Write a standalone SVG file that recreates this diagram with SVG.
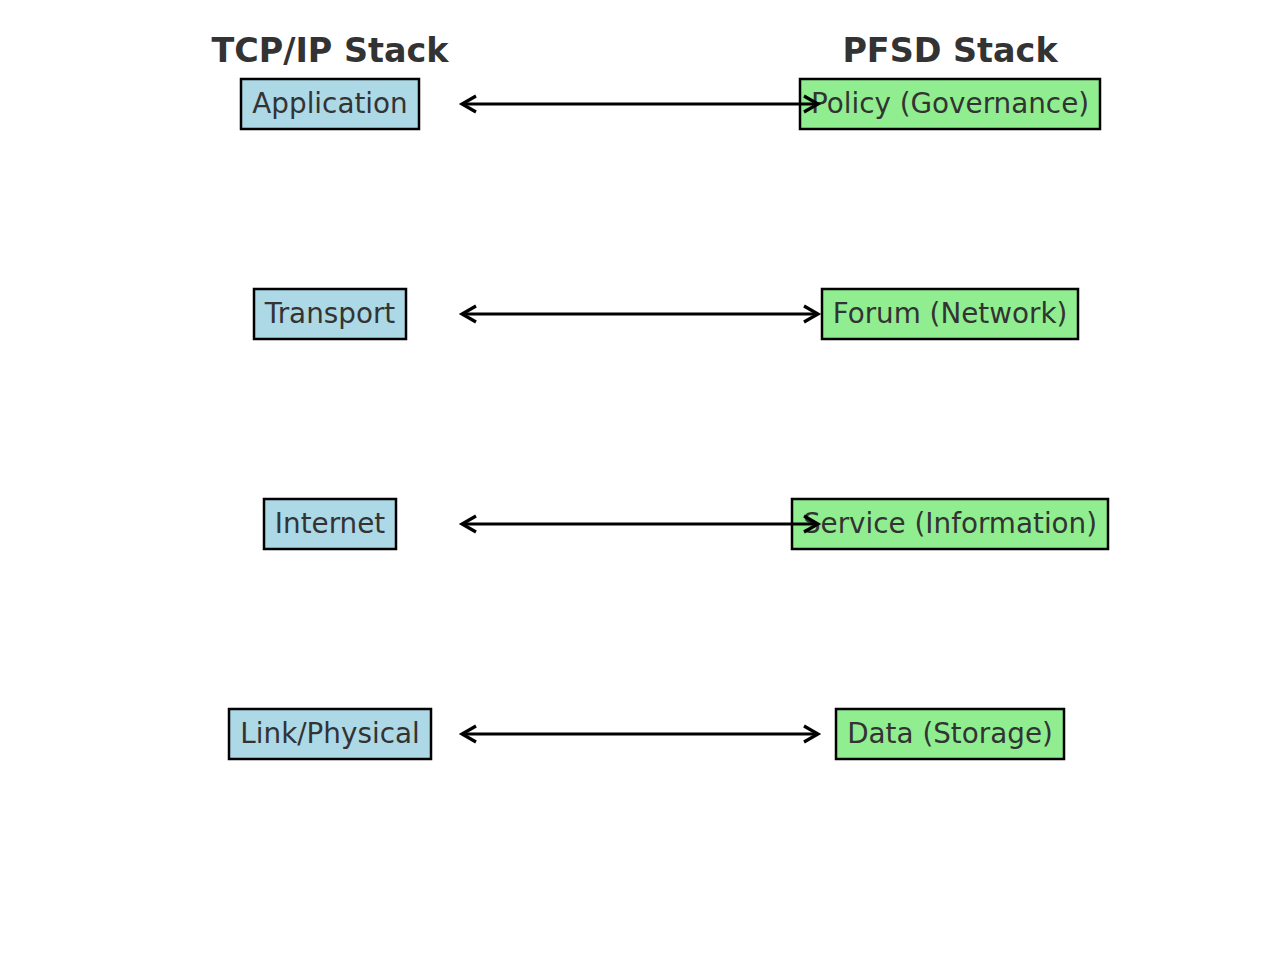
<svg xmlns="http://www.w3.org/2000/svg" width="1280" height="964" viewBox="0 0 1280 964">
<style>
.title{font-family:"DejaVu Sans",sans-serif;font-weight:bold;font-size:33.4px;fill:#333;text-anchor:middle;dominant-baseline:central}
.lbl{font-family:"DejaVu Sans",sans-serif;font-size:27.8px;fill:#333;text-anchor:middle;dominant-baseline:central}
.tcp{fill:#add8e6;stroke:#000;stroke-width:2.5}
.pfsd{fill:#90ee90;stroke:#000;stroke-width:2.5}
.conn{stroke:#000;stroke-width:3;fill:none;marker-start:url(#ah);marker-end:url(#ah)}
</style>
<defs>
<marker id="ah" markerUnits="userSpaceOnUse" viewBox="-18 -11 22 22" markerWidth="22" markerHeight="22" refX="0" refY="0" orient="auto-start-reverse">
<path d="M-14,-8 L0,0 L-14,8" fill="none" stroke="#000" stroke-width="3.2" stroke-linejoin="miter"/>
</marker>
</defs>
<rect width="1280" height="964" fill="#fff"/>
<text class="title" x="330" y="50">TCP/IP Stack</text>
<text class="title" x="950" y="50">PFSD Stack</text>
<g id="tcp-application"><rect class="tcp" x="241" y="79" width="178" height="50"/><text class="lbl" x="330" y="103">Application</text></g>
<g id="tcp-transport"><rect class="tcp" x="254" y="289" width="152" height="50"/><text class="lbl" x="330" y="313">Transport</text></g>
<g id="tcp-internet"><rect class="tcp" x="264" y="499" width="132" height="50"/><text class="lbl" x="330" y="523">Internet</text></g>
<g id="tcp-link"><rect class="tcp" x="229" y="709" width="202" height="50"/><text class="lbl" x="330" y="733">Link/Physical</text></g>
<g id="pfsd-policy"><rect class="pfsd" x="800" y="79" width="300" height="50"/><text class="lbl" x="950" y="103">Policy (Governance)</text></g>
<g id="pfsd-forum"><rect class="pfsd" x="822" y="289" width="256" height="50"/><text class="lbl" x="950" y="313">Forum (Network)</text></g>
<g id="pfsd-service"><rect class="pfsd" x="792" y="499" width="316" height="50"/><text class="lbl" x="950" y="523">Service (Information)</text></g>
<g id="pfsd-data"><rect class="pfsd" x="836" y="709" width="228" height="50"/><text class="lbl" x="950" y="733">Data (Storage)</text></g>
<g id="connectors">
<line class="conn" x1="462" y1="104" x2="818" y2="104"/>
<line class="conn" x1="462" y1="314" x2="818" y2="314"/>
<line class="conn" x1="462" y1="524" x2="818" y2="524"/>
<line class="conn" x1="462" y1="734" x2="818" y2="734"/>
</g>
</svg>
